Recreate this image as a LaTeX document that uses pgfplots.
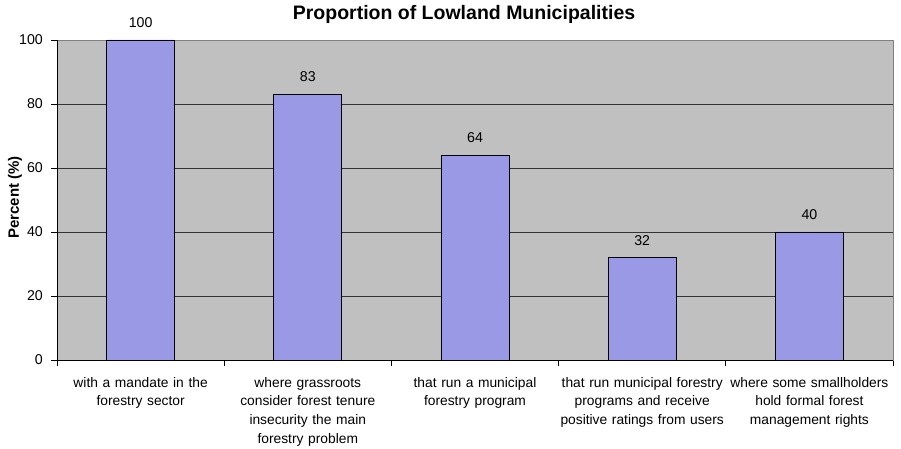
\documentclass[border=0pt]{standalone}
\usepackage{pgfplots}
\pgfplotsset{compat=1.18}
\usepackage{fontspec}
\setmainfont{Liberation Sans}
\definecolor{barfill}{RGB}{153,153,230}
\definecolor{plotbg}{RGB}{192,192,192}
\begin{document}
\begin{tikzpicture}[x=1pt,y=1pt]
\useasboundingbox (0,0) rectangle (901,449);
\begin{axis}[
  at={(57pt,89pt)}, anchor=south west,
  scale only axis, width=836pt, height=320pt,
  xmin=-0.5, xmax=4.5, ymin=0, ymax=100,
  axis background/.style={fill=plotbg},
  axis line style={draw=black!50, line width=0.8pt},
  ytick={0,20,...,100},
  ymajorgrids,
  major grid style={draw=black!80, line width=0.8pt},
  tick align=outside,
  xtick pos=bottom, ytick pos=left,
  major tick length=6pt,
  tick style={draw=black, line width=0.8pt},
  xtick={-0.5,0.5,...,4.5},
  xticklabels={},
  extra x ticks={0,1,2,3,4},
  extra x tick labels={{with a mandate in the\\forestry sector},{where grassroots\\consider forest tenure\\insecurity the main\\forestry problem},{that run a municipal\\forestry program},{that run municipal forestry\\programs and receive\\positive ratings from users},{where some smallholders\\hold formal forest\\management rights}},
  extra x tick style={major tick length=0pt, grid=none,
    tick label style={align=center, text width=175pt, inner sep=0pt, anchor=north, yshift=-17pt,
      font=\fontsize{13.8}{18.7}\selectfont}},
  y tick label style={font=\fontsize{14.2}{17}\selectfont, inner sep=0pt, xshift=-8pt},
  /pgf/number format/assume math mode=true,
  ybar, bar width=0.407,
  nodes near coords,
  every node near coord/.append style={font=\fontsize{14.2}{17}\selectfont, inner sep=0pt, yshift=12pt, text=black},
  clip=false,
]
\addplot[fill=barfill, draw=black, line width=0.8pt] coordinates {(0,100) (1,83) (2,64) (3,32) (4,40)};
\draw[black, line width=0.8pt] (axis cs:-0.5,100) -- (axis cs:-0.5,0) -- (axis cs:4.5,0);
\end{axis}
\node[anchor=base, font=\bfseries\fontsize{19.5}{21}\selectfont] at (464,429) {Proportion of Lowland Municipalities};
\node[rotate=90, font=\bfseries\fontsize{15}{17}\selectfont] at (15,251.5) {Percent (\%)};
\end{tikzpicture}
\end{document}
